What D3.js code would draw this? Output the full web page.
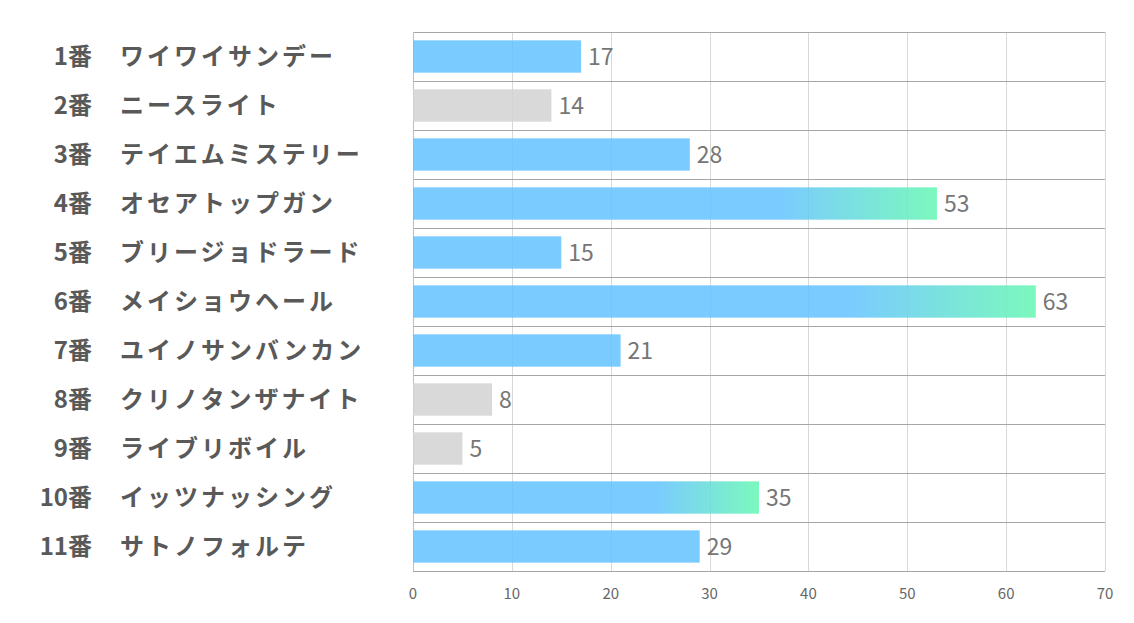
<!DOCTYPE html>
<html><head><meta charset="utf-8">
<script src="https://cdn.jsdelivr.net/npm/d3@7"></script>
<style>body{margin:0;background:#fff}</style>
</head><body><svg id="c" width="1134" height="623"></svg>
<script>
const numbers = ["1番","2番","3番","4番","5番","6番","7番","8番","9番","10番","11番"];
const names = ["ワイワイサンデー","ニースライト","テイエムミステリー","オセアトップガン","ブリージョドラード","メイショウヘール","ユイノサンバンカン","クリノタンザナイト","ライブリボイル","イッツナッシング","サトノフォルテ"];
const values = [17,14,28,53,15,63,21,8,5,35,29];
const kinds = ["blue","gray","blue","grad","blue","grad","blue","gray","gray","grad","blue"];
const ticks = [0,10,20,30,40,50,60,70];

(function(){
const svg = d3.select("#c");
const pL = 413, pR = 1105, pT = 32, pB = 571;
const x = d3.scaleLinear().domain([0,70]).range([pL,pR]);
const y = d3.scaleBand().domain(d3.range(values.length)).range([pT,pB]).paddingInner(0.34).paddingOuter(0.17);
const band = d3.scaleBand().domain(d3.range(values.length)).range([pT,pB]);

const defs = svg.append("defs");
const g = defs.append("linearGradient").attr("id","gr").attr("x1","0%").attr("x2","100%").attr("y1","0").attr("y2","0");
g.append("stop").attr("offset","0%").attr("stop-color","rgb(99,194,255)");
g.append("stop").attr("offset","70%").attr("stop-color","rgb(99,194,255)");
g.append("stop").attr("offset","100%").attr("stop-color","rgb(100,247,178)");

svg.append("g").selectAll("line").data(ticks.slice(1)).join("line")
  .attr("x1",d=>Math.round(x(d))+0.5).attr("x2",d=>Math.round(x(d))+0.5).attr("y1",pT).attr("y2",pB)
  .attr("stroke","#d9d9d9").attr("stroke-width",1);
svg.append("g").selectAll("line").data(d3.range(values.length+1)).join("line")
  .attr("x1",pL).attr("x2",pR)
  .attr("y1",d=>Math.round(pT + d*band.step())+0.5).attr("y2",d=>Math.round(pT + d*band.step())+0.5)
  .attr("stroke","#a6a6a6").attr("stroke-width",1);
svg.append("line").attr("x1",pL+0.5).attr("x2",pL+0.5).attr("y1",pT).attr("y2",pB)
  .attr("stroke","#bfbfbf");

svg.append("g").selectAll("rect").data(values).join("rect")
  .attr("x",x(0)).attr("y",(d,i)=>y(i)).attr("height",y.bandwidth())
  .attr("width",d=>x(d)-x(0))
  .attr("fill",(d,i)=>kinds[i]==="gray"?"rgb(210,210,210)":kinds[i]==="grad"?"url(#gr)":"rgb(99,194,255)")
  .attr("fill-opacity",0.85);

svg.append("g").selectAll("text").data(values).join("text")
  .attr("x",d=>x(d)+7).attr("y",(d,i)=>y(i)+y.bandwidth()/2)
  .attr("dy","0.36em")
  .attr("font-family","'Noto Sans CJK JP','Noto Sans',sans-serif")
  .attr("font-size",23).attr("fill","#767676").text(d=>d);

const lab = svg.append("g").attr("font-family","'Noto Sans CJK JP',sans-serif")
  .attr("font-weight","bold").attr("font-size",24).attr("fill","#595959");
lab.selectAll("text.n").data(numbers).join("text").attr("class","n")
  .attr("x",92).attr("y",(d,i)=>y(i)+y.bandwidth()/2).attr("dy","0.36em")
  .attr("text-anchor","end").text(d=>d);
lab.selectAll("text.m").data(names).join("text").attr("class","m")
  .attr("letter-spacing",3)
  .attr("x",120).attr("y",(d,i)=>y(i)+y.bandwidth()/2).attr("dy","0.36em")
  .attr("text-anchor","start").text(d=>d);

svg.append("g").selectAll("text").data(ticks).join("text")
  .attr("x",d=>x(d)).attr("y",599).attr("text-anchor","middle")
  .attr("font-family","'Noto Sans CJK JP','Noto Sans',sans-serif")
  .attr("font-size",15).attr("fill","#666666").text(d=>d);
})();
</script></body></html>
